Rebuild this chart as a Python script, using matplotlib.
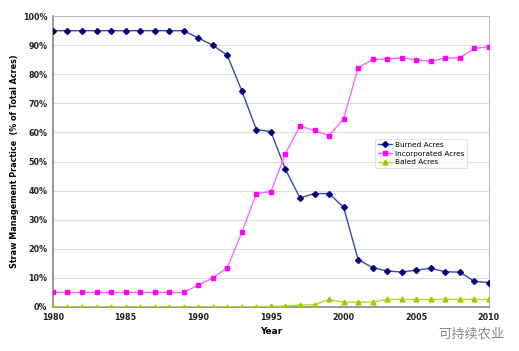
import matplotlib.pyplot as plt
from matplotlib.ticker import PercentFormatter

years = list(range(1980, 2011))
burned = [95, 95, 95, 95, 95, 95, 95, 95, 95, 95,
          92.5, 90, 86.5, 74.3, 61, 60.3, 47.3, 37.5, 39, 39,
          34.3, 16.3, 13.5, 12.4, 12.0, 12.7, 13.3, 12.1, 12.0, 8.8, 8.4]
incorporated = [5, 5, 5, 5, 5, 5, 5, 5, 5, 5,
                7.5, 10, 13.5, 25.7, 39, 39.7, 52.7, 62.2, 60.7, 58.9,
                64.6, 82.2, 85.1, 85.3, 85.6, 85.0, 84.5, 85.6, 85.7, 88.9, 89.5]
baled = [0, 0, 0, 0, 0, 0, 0, 0, 0, 0,
         0, 0, 0, 0, 0.1, 0.2, 0.3, 0.7, 0.8, 2.6,
         1.6, 1.7, 1.7, 2.6, 2.6, 2.6, 2.6, 2.6, 2.6, 2.6, 2.6]
xticks = [1980, 1985, 1990, 1995, 2000, 2005, 2010]

fig = plt.figure(figsize=(5.19, 3.51), dpi=100)
ax = fig.add_axes([0.102, 0.1254, 0.840, 0.8286])

ax.plot(years, burned, color='#3a4a9e', lw=1, marker='D', ms=3,
        mfc='#000080', mec='#000080', label='Burned Acres', zorder=3)
ax.plot(years, incorporated, color='#ff66ff', lw=1, marker='s', ms=3.5,
        mfc='#ff00ff', mec='#ff00ff', label='Incorporated Acres', zorder=3)
ax.plot(years, baled, color='#b5d930', lw=1, marker='^', ms=3.5,
        mfc='#99cc00', mec='#99cc00', label='Baled Acres', zorder=3)

ax.set_xlim(1980, 2010)
ax.set_ylim(0, 100)
ax.set_yticks(range(0, 101, 10))
ax.yaxis.set_major_formatter(PercentFormatter(decimals=0))
ax.set_xticks(xticks)
ax.tick_params(axis='both', labelsize=5.8, length=0, pad=4)
for lbl in ax.get_xticklabels() + ax.get_yticklabels():
    lbl.set_fontweight('bold')
    lbl.set_color('#222222')

ax.grid(axis='y', color='#dddddd', lw=0.8, zorder=0)
ax.set_axisbelow(True)
for side in ['top', 'right']:
    ax.spines[side].set_color('#bbbbbb')
for side in ['left', 'bottom']:
    ax.spines[side].set_color('#888888')
    ax.spines[side].set_linewidth(1.2)

ax.set_xlabel('Year', fontsize=6.5, fontweight='bold', labelpad=4)
ax.set_ylabel('Straw Management Practice  (% of Total Acres)', fontsize=5.8,
              fontweight='bold', labelpad=3)

leg = ax.legend(loc='upper left', bbox_to_anchor=(0.738, 0.578), fontsize=5.3,
                frameon=True, fancybox=False, borderpad=0.4, handlelength=2.0,
                labelspacing=0.35, handletextpad=0.3, borderaxespad=0)
leg.get_frame().set_edgecolor('#dddddd')
leg.get_frame().set_linewidth(0.8)

fig.text(0.973, 0.03, '可持续农业', fontsize=9.5, color='#888888', ha='right',
         va='bottom', family=['Noto Sans CJK SC', 'DejaVu Sans'])

fig.savefig('out.png', dpi=100)
